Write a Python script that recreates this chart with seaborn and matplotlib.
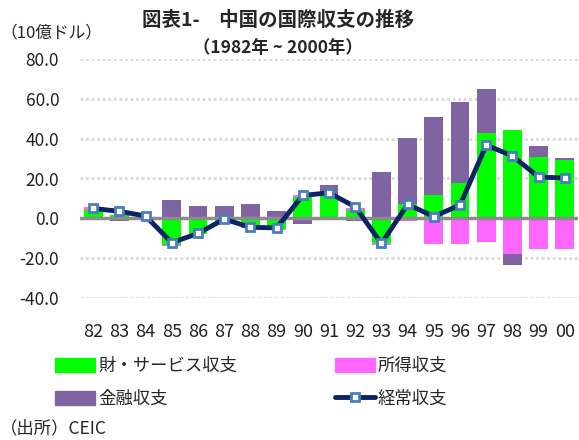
import numpy as np
import pandas as pd
import seaborn as sns
import matplotlib.pyplot as plt
from matplotlib.patches import Patch
from matplotlib.lines import Line2D
from matplotlib.ticker import FormatStrFormatter

sns.set_style('white')
plt.rcParams['font.family'] = ['Noto Sans CJK JP', 'DejaVu Sans']

# values (10億ドル)
years = ['82', '83', '84', '85', '86', '87', '88', '89', '90', '91',
         '92', '93', '94', '95', '96', '97', '98', '99', '00']
goods = [4.3, 1.5, 0.5, -13.3, -7.7, -1.5, -4.2, -5.6, 10.9, 11.1,
         4.3, -12.6, 7.0, 11.8, 17.6, 42.9, 44.6, 30.6, 29.1]
income = [1.3, 0.4, 0.3, -0.4, -0.2, -0.3, -0.8, -0.2, 0.7, 0.3,
          0.8, -0.7, -1.4, -12.8, -12.8, -12.0, -17.8, -15.2, -15.2]
finance = [0.0, -1.2, -0.6, 9.0, 6.0, 6.0, 7.0, 3.7, -2.6, 5.4,
           -1.4, 23.1, 33.5, 39.3, 41.0, 22.2, -5.4, 5.8, 1.3]
current = [5.0, 3.5, 1.2, -12.2, -7.6, -0.4, -4.5, -4.8, 11.5, 12.8,
           5.8, -12.6, 7.0, 0.9, 6.7, 36.8, 31.3, 20.7, 20.3]

names = ['財・サービス収支', '所得収支', '金融収支']
colors = ['#00ff00', '#ff66ff', '#8064a2']

df = pd.DataFrame({'year': years, names[0]: goods, names[1]: income,
                   names[2]: finance, '経常収支': current})

# stacked: positives upward, negatives downward
pos = df[names].clip(lower=0).cumsum(axis=1)
neg = df[names].clip(upper=0).cumsum(axis=1)

fig = plt.figure(figsize=(5.79, 4.40), dpi=100)
ax = fig.add_axes([80 / 579, 1 - 298 / 440, 498 / 579, 239 / 440])

for name, c in reversed(list(zip(names, colors))):
    for part in (pos, neg):
        sns.barplot(x=df['year'], y=part[name], color=c, saturation=1,
                    width=0.72, errorbar=None, linewidth=0, ax=ax)

ax.axhline(0, color='#8c8c8c', lw=2.5, zorder=3)

sns.pointplot(x=df['year'], y=df['経常収支'], color='#0c2463', markers='s',
              linestyles='-', linewidth=3.5, markersize=6,
              markerfacecolor='white', markeredgecolor='#4a7ebb',
              markeredgewidth=2, zorder=5, ax=ax)

ax.set_ylim(-40, 80)
ax.set_xlim(-0.5, len(years) - 0.5)
ax.set_yticks(np.arange(-40, 81, 20))
ax.yaxis.set_major_formatter(FormatStrFormatter('%.1f'))
ax.yaxis.grid(True, linestyle=(0, (1, 1)), color='#d9d9d9', linewidth=2)
ax.set_axisbelow(True)
for s in ax.spines.values():
    s.set_visible(False)
ax.set_xlabel('')
ax.set_ylabel('')
ax.tick_params(axis='y', length=0, pad=15, labelsize=12.5, labelcolor='#222222')
ax.tick_params(axis='x', length=0, pad=18, labelsize=13, labelcolor='#222222')

fig.text(278 / 579, 1 - 20 / 440, '図表1-　中国の国際収支の推移', ha='center',
         va='center', fontsize=14, fontweight='bold')
fig.text(278 / 579, 1 - 48 / 440, '（1982年 ~ 2000年）', ha='center',
         va='center', fontsize=12.5, fontweight='bold')
fig.text(0, 1 - 33 / 440, '（10億ドル）', ha='left', va='center',
         fontsize=12)
fig.text(0, 1 - 428 / 440, '（出所）CEIC', ha='left', va='center',
         fontsize=12.5)

handles = [Patch(color=colors[0]), Patch(color=colors[2]),
           Patch(color=colors[1]),
           Line2D([], [], color='#0c2463', lw=3.5, marker='s', markersize=6,
                  markerfacecolor='white', markeredgecolor='#4a7ebb',
                  markeredgewidth=2)]
labels = [names[0], names[2], names[1], '経常収支']
fig.legend(handles, labels, ncol=2, loc='upper left',
           bbox_to_anchor=(55 / 579, 1 - 357 / 440), frameon=False,
           borderpad=0, borderaxespad=0, fontsize=12.5, handlelength=2.3,
           handleheight=0.85, handletextpad=0.2, columnspacing=5.6,
           labelspacing=0.85)

fig.savefig('out.png', dpi=100)
